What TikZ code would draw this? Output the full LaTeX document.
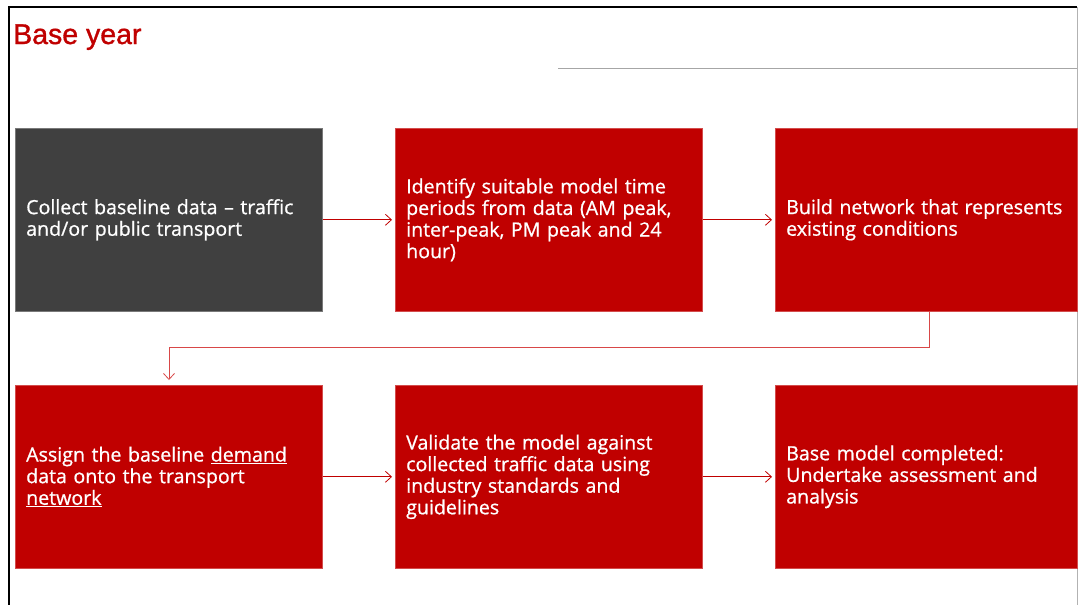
\documentclass[tikz,border=0pt]{standalone}
\usepackage{fontspec}
\setmainfont[FakeBold=0.8]{Open Sans}
\newfontfamily\titlefont[FakeBold=1.2]{Liberation Sans}
\usetikzlibrary{arrows.meta,positioning,calc}
\definecolor{bred}{HTML}{C00000}
\definecolor{bgray}{HTML}{404040}
\definecolor{lred}{HTML}{D84848}
\begin{document}
\begin{tikzpicture}[x=1pt,y=-1pt,
  stepbox/.style={draw=#1!70!white,line width=0.6pt,fill=#1,minimum width=307pt,minimum height=183pt,anchor=north west,inner sep=0pt},
  boxtext/.style={anchor=west,text=white,align=left,text width=300pt,inner sep=0pt,font=\fontsize{19.6}{21.6}\selectfont},
  conn/.style={draw=bred,line width=0.8pt,-{Straight Barb[length=6pt,width=11pt,line width=0.8pt]}},
  ]
\useasboundingbox (0,0) rectangle (1079,605);
% frame
\draw[black,line width=1.8pt] (9,605) -- (9,7) -- (1077,7);
\draw[gray!60,line width=0.8pt] (1077,7) -- (1077,605);
\draw[gray!70,line width=0.8pt] (558,68) -- (1077,68);
% title
\node[anchor=base west,inner sep=0pt,text=bred,font=\titlefont\fontsize{28.5}{32}\selectfont] (title) at (13,44) {Base year};
% boxes
\node[stepbox=bgray] (b1) at (15,128) {};
\node[stepbox=bred] (b2) at (395,128) {};
\node[stepbox=bred,minimum width=302pt] (b3) at (775,128) {};
\node[stepbox=bred] (b4) at (15,385) {};
\node[stepbox=bred] (b5) at (395,385) {};
\node[stepbox=bred,minimum width=302pt] (b6) at (775,385) {};
% texts
\node[boxtext] (t1) at ($(b1.west)+(11,0)$) {Collect baseline data -- traffic\\and/or public transport};
\node[boxtext] (t2) at ($(b2.west)+(11,0)$) {Identify suitable model time\\periods from data (AM peak,\\inter-peak, PM peak and 24\\hour)};
\node[boxtext] (t3) at ($(b3.west)+(11,0)$) {Build network that represents\\existing conditions};
\node[boxtext] (t4) at ($(b4.west)+(11,0)$) {Assign the baseline \underline{demand}\\data onto the transport\\\underline{network}};
\node[boxtext] (t5) at ($(b5.west)+(11,0)$) {Validate the model against\\collected traffic data using\\industry standards and\\guidelines};
\node[boxtext] (t6) at ($(b6.west)+(11,0)$) {Base model completed:\\Undertake assessment and\\analysis};
% connectors
\draw[conn] (b1.east) -- ($(b2.west)+(-3,0)$);
\draw[conn] (b2.east) -- ($(b3.west)+(-3,0)$);
\draw[conn] (b4.east) -- ($(b5.west)+(-3,0)$);
\draw[conn] (b5.east) -- ($(b6.west)+(-3,0)$);
\coordinate (e1) at ($(b3.south west)+(154,0)$);
\coordinate (e2) at ($(b4.north west)+(154,-5)$);
\draw[conn,draw=lred] (e1) -- ++(0,36) -| (e2);
\end{tikzpicture}
\end{document}
